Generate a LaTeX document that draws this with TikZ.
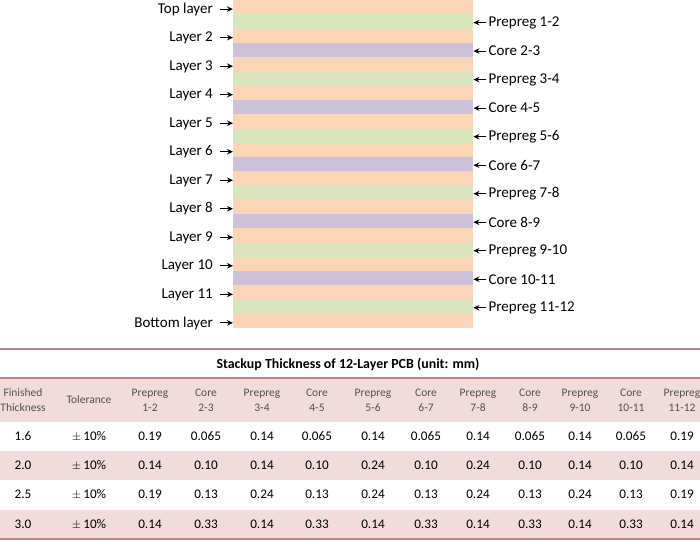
\documentclass[tikz,border=0pt]{standalone}
\usepackage{fontspec}
\setmainfont{Carlito}
\usetikzlibrary{arrows.meta}
\definecolor{cu}{HTML}{FBD5B5}
\definecolor{pp}{HTML}{D8E4BD}
\definecolor{co}{HTML}{CDC1DA}
\definecolor{tline}{HTML}{C3817F}
\definecolor{tpink}{HTML}{F2DCDB}
\definecolor{hdr}{HTML}{505050}
\tikzset{
  band/.style={rectangle, draw=none, minimum width=240pt, minimum height=14.26pt, inner sep=0pt, anchor=north west},
  leftlab/.style={anchor=east, inner sep=0pt, font=\fontsize{15}{17}\selectfont},
  rightlab/.style={anchor=west, inner sep=0pt, font=\fontsize{15}{17}\selectfont},
  arr/.style={-{Stealth[length=6pt,width=5.5pt]}, line width=1.1pt},
  hdrtxt/.style={align=center, inner sep=0pt, text=hdr, font=\fontsize{11.5}{15}\selectfont},
  datatxt/.style={inner sep=0pt, font=\fontsize{13.2}{15}\selectfont},
  tabrule/.style={draw=tline, line width=1.6pt}
}
\begin{document}
\begin{tikzpicture}[x=1pt,y=-1pt]
\useasboundingbox (0,0) rectangle (700,545);
\fill[white] (0,0) rectangle (700,545);
% stack bands
\foreach \i [evaluate=\i as \yy using {(\i-1)*14.26}] in {1,...,23}{
  \pgfmathtruncatemacro{\m}{mod(\i,4)}
  \ifnum\m=1 \node[band, fill=cu] (b\i) at (233,\yy) {};\fi
  \ifnum\m=3 \node[band, fill=cu] (b\i) at (233,\yy) {};\fi
  \ifnum\m=2 \node[band, fill=pp] (b\i) at (233,\yy) {};\fi
  \ifnum\m=0 \node[band, fill=co] (b\i) at (233,\yy) {};\fi
}
% left labels
\foreach \i/\t [count=\k] in {1/Top layer,3/Layer 2,5/Layer 3,7/Layer 4,9/Layer 5,11/Layer 6,13/Layer 7,15/Layer 8,17/Layer 9,19/Layer 10,21/Layer 11,23/Bottom layer}{
  \node[leftlab] (L\k) at ([xshift=-20pt,yshift=-2pt]b\i.west) {\t};
  \coordinate (La\k) at ([xshift=-13pt,yshift=-1.8pt]b\i.west);
  \draw[arr] (La\k) -- ([yshift=-1.8pt]b\i.west);
}
% right labels
\foreach \i/\t [count=\k] in {2/Prepreg 1-2,4/Core 2-3,6/Prepreg 3-4,8/Core 4-5,10/Prepreg 5-6,12/Core 6-7,14/Prepreg 7-8,16/Core 8-9,18/Prepreg 9-10,20/Core 10-11,22/Prepreg 11-12}{
  \node[rightlab] (R\k) at ([xshift=15pt,yshift=-1pt]b\i.east) {\t};
  \coordinate (Ra\k) at ([xshift=13pt,yshift=-1pt]b\i.east);
  \draw[arr] (Ra\k) -- ([yshift=-1pt]b\i.east);
}
% table
\fill[tpink] (0,378) rectangle (700,422);
\fill[tpink] (0,451) rectangle (700,480);
\fill[tpink] (0,509.5) rectangle (700,538.5);
\draw[tabrule] (0,349) -- (700,349);
\draw[tabrule] (0,378) -- (700,378);
\draw[tabrule] (0,539) -- (700,539);
\node[inner sep=0pt, font=\bfseries\fontsize{13.9}{15}\selectfont] (title) at (348,364) {Stackup Thickness of 12-Layer PCB (unit: mm)};
\foreach \x/\t [count=\k] in {23/Finished\\Thickness,89/Tolerance,150/Prepreg\\1-2,206/Core\\2-3,262/Prepreg\\3-4,317/Core\\4-5,373/Prepreg\\5-6,426/Core\\6-7,478/Prepreg\\7-8,530/Core\\8-9,580/Prepreg\\9-10,631/Core\\10-11,682/Prepreg\\11-12}{
  \node[hdrtxt] (h\k) at (\x,400) {\t};
}
\foreach \y/\r [count=\j] in {436.5/{1.6,{$\pm$\,10\%},0.19,0.065,0.14,0.065,0.14,0.065,0.14,0.065,0.14,0.065,0.19},
  465.5/{2.0,{$\pm$\,10\%},0.14,0.10,0.14,0.10,0.24,0.10,0.24,0.10,0.14,0.10,0.14},
  494.5/{2.5,{$\pm$\,10\%},0.19,0.13,0.24,0.13,0.24,0.13,0.24,0.13,0.24,0.13,0.19},
  524/{3.0,{$\pm$\,10\%},0.14,0.33,0.14,0.33,0.14,0.33,0.14,0.33,0.14,0.33,0.14}}{
  \foreach \v [count=\c] in \r {
    \pgfmathsetmacro{\xx}{{23,89,150,206,262,317,373,426,478,530,580,631,682}[\c-1]}
    \node[datatxt] (d\j-\c) at (\xx,\y) {\v};
  }
}
\end{tikzpicture}
\end{document}
